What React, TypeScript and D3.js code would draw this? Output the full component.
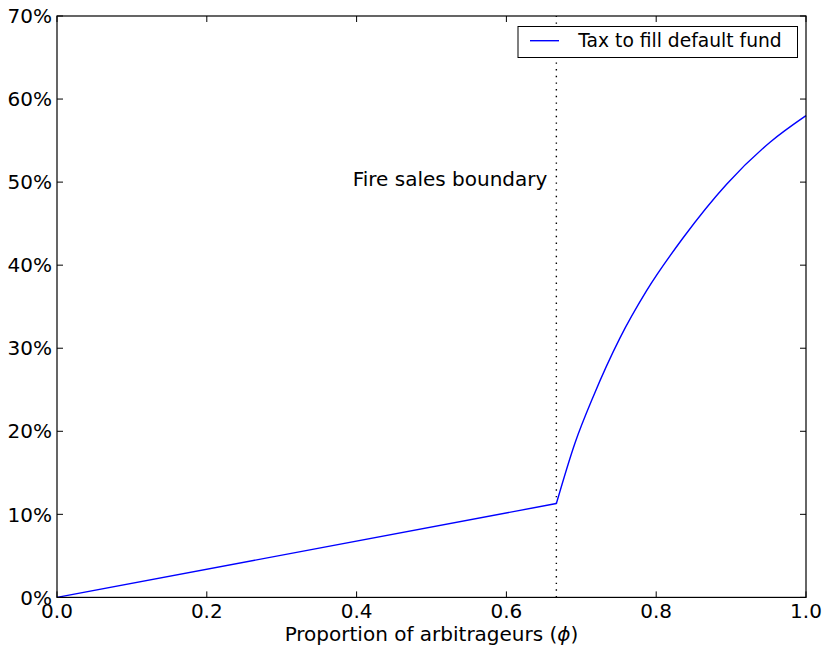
import React, { useEffect, useRef } from "react";
import * as d3 from "d3";

// linear part up to the fire sales boundary
const linearPhi = [0, 0.6667];
const linearTax = [0, 11.3];

// after the boundary
const curvePhi = [0.6667, 0.6916, 0.716, 0.7517, 0.787, 0.836, 0.894, 0.952, 1.0];
const curveTax = [11.3, 18.6, 24.2, 31.25, 36.9, 43.3, 49.75, 54.8, 58.0];

const boundary = 0.6667;

const xTicks = [0, 0.2, 0.4, 0.6, 0.8, 1.0];
const xTickLabels = ["0.0", "0.2", "0.4", "0.6", "0.8", "1.0"];
const yTicks = [0, 10, 20, 30, 40, 50, 60, 70];
const yTickLabels = ["0%", "10%", "20%", "30%", "40%", "50%", "60%", "70%"];

const seriesLabel = "Tax to fill default fund";
const annotation = "Fire sales boundary";

const width = 828;
const height = 653;
const margin = { top: 16, right: 22, bottom: 55.6, left: 57 };
const font = "'DejaVu Sans', sans-serif";
const fontSize = 20;

const App: React.FC = () => {
  const svgRef = useRef<SVGSVGElement>(null);

  useEffect(() => {
    if (!svgRef.current) return;
    const svg = d3.select(svgRef.current);
    svg.selectAll("*").remove();

    const x = d3
      .scaleLinear()
      .domain([0, 1])
      .range([margin.left, width - margin.right]);
    const y = d3
      .scaleLinear()
      .domain([0, 70])
      .range([height - margin.bottom, margin.top]);

    const x0 = x.range()[0];
    const x1 = x.range()[1];
    const y0 = y.range()[0];
    const y1 = y.range()[1];

    svg.append("rect").attr("width", width).attr("height", height).attr("fill", "white");

    // dotted boundary line
    svg
      .append("line")
      .attr("x1", x(boundary))
      .attr("x2", x(boundary))
      .attr("y1", y0)
      .attr("y2", y1)
      .attr("stroke", "black")
      .attr("stroke-width", 1.4)
      .attr("stroke-dasharray", "1.4,5.27");

    // series
    const linePts: [number, number][] = linearPhi.map((p, i) => [p, linearTax[i]]);
    const curvePts: [number, number][] = curvePhi.map((p, i) => [p, curveTax[i]]);
    const straight = d3
      .line<[number, number]>()
      .x((d) => x(d[0]))
      .y((d) => y(d[1]));
    const smooth = d3
      .line<[number, number]>()
      .x((d) => x(d[0]))
      .y((d) => y(d[1]))
      .curve(d3.curveMonotoneX);

    svg
      .append("path")
      .attr("d", (straight(linePts) as string) + (smooth(curvePts) as string).replace(/^M/, "L"))
      .attr("fill", "none")
      .attr("stroke", "#0000ff")
      .attr("stroke-width", 1.4)
      .attr("stroke-linejoin", "round");

    // frame
    svg
      .append("rect")
      .attr("x", x0)
      .attr("y", y1)
      .attr("width", x1 - x0)
      .attr("height", y0 - y1)
      .attr("fill", "none")
      .attr("stroke", "black")
      .attr("stroke-width", 1.2);

    const tickLen = 6;

    // x ticks (bottom and top, inside)
    xTicks.forEach((t, i) => {
      const px = x(t);
      svg.append("line").attr("x1", px).attr("x2", px).attr("y1", y0).attr("y2", y0 - tickLen).attr("stroke", "black");
      svg.append("line").attr("x1", px).attr("x2", px).attr("y1", y1).attr("y2", y1 + tickLen).attr("stroke", "black");
      svg
        .append("text")
        .attr("x", px)
        .attr("y", y0 + 21)
        .attr("text-anchor", "middle")
        .style("font-family", font)
        .style("font-size", `${fontSize}px`)
        .text(xTickLabels[i]);
    });

    // y ticks (left and right, inside)
    yTicks.forEach((t, i) => {
      const py = y(t);
      svg.append("line").attr("x1", x0).attr("x2", x0 + tickLen).attr("y1", py).attr("y2", py).attr("stroke", "black");
      svg.append("line").attr("x1", x1).attr("x2", x1 - tickLen).attr("y1", py).attr("y2", py).attr("stroke", "black");
      svg
        .append("text")
        .attr("x", x0 - 5)
        .attr("y", py)
        .attr("dy", "0.36em")
        .attr("text-anchor", "end")
        .style("font-family", font)
        .style("font-size", `${fontSize}px`)
        .text(yTickLabels[i]);
    });

    // x axis label
    const xl = svg
      .append("text")
      .attr("x", (x0 + x1) / 2)
      .attr("y", 641)
      .attr("text-anchor", "middle")
      .style("font-family", font)
      .style("font-size", `${fontSize}px`);
    xl.append("tspan").text("Proportion of arbitrageurs (");
    xl.append("tspan").style("font-style", "italic").text("ϕ");
    xl.append("tspan").text(")");

    // annotation
    svg
      .append("text")
      .attr("x", x(boundary) - 9)
      .attr("y", y(49.5))
      .attr("text-anchor", "end")
      .style("font-family", font)
      .style("font-size", `${fontSize}px`)
      .text(annotation);

    // legend
    const lg = svg.append("g").attr("transform", `translate(${x1 - 288},${y1 + 10.5})`);
    lg.append("rect")
      .attr("width", 279.5)
      .attr("height", 31)
      .attr("fill", "white")
      .attr("stroke", "black")
      .attr("stroke-width", 1);
    lg.append("line")
      .attr("x1", 12)
      .attr("x2", 41)
      .attr("y1", 14.2)
      .attr("y2", 14.2)
      .attr("stroke", "#0000ff")
      .attr("stroke-width", 1.4);
    lg.append("text")
      .attr("x", 60.3)
      .attr("y", 20.2)
      .style("font-family", font)
      .style("font-size", "18.7px")
      .text(seriesLabel);
  }, []);

  return (
    <svg
      ref={svgRef}
      width={width}
      height={height}
      style={{ position: "absolute", left: 0, top: 0 }}
    ></svg>
  );
};

export default App;
